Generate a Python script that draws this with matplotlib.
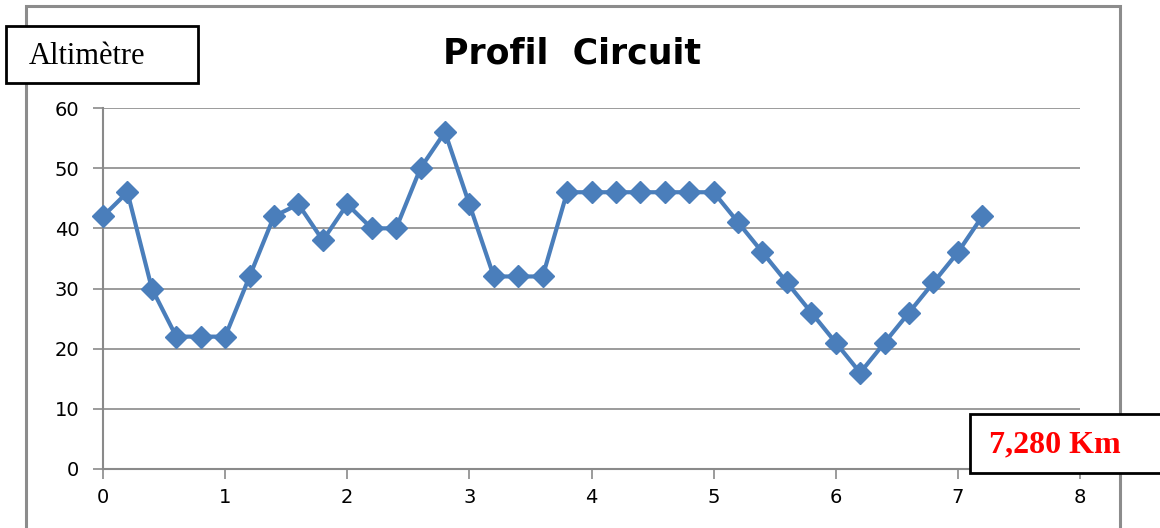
import matplotlib
matplotlib.use("Agg")
import matplotlib.pyplot as plt
from matplotlib.patches import Rectangle

distance_km = [0.0, 0.2, 0.4, 0.6, 0.8, 1.0, 1.2, 1.4, 1.6, 1.8, 2.0, 2.2, 2.4, 2.6, 2.8,
               3.0, 3.2, 3.4, 3.6, 3.8, 4.0, 4.2, 4.4, 4.6, 4.8, 5.0, 5.2, 5.4, 5.6, 5.8,
               6.0, 6.2, 6.4, 6.6, 6.8, 7.0, 7.2]
altitude = [42, 46, 30, 22, 22, 22, 32, 42, 44, 38, 44, 40, 40, 50, 56,
            44, 32, 32, 32, 46, 46, 46, 46, 46, 46, 46, 41, 36, 31, 26,
            21, 16, 21, 26, 31, 36, 42]
x_ticks = [0, 1, 2, 3, 4, 5, 6, 7, 8]
y_ticks = [0, 10, 20, 30, 40, 50, 60]
title = "Profil  Circuit"
ylabel_box = "Altimètre"
total_box = "7,280 Km"

W, H = 1160, 528
fig = plt.figure(figsize=(W / 100, H / 100), dpi=100)
fig.patch.set_facecolor("white")


def px_rect(x0, y0, x1, y1, **kw):
    """Rectangle given in pixel coordinates (top-left origin)."""
    return Rectangle((x0 / W, 1 - y1 / H), (x1 - x0) / W, (y1 - y0) / H,
                     transform=fig.transFigure, **kw)


# outer chart border
fig.patches.append(px_rect(26, 6, 1120, 540, fill=False, edgecolor="#8c8c8c",
                           linewidth=2.2, zorder=0))

ax = fig.add_axes([103 / W, 1 - 469 / H, (1080 - 103) / W, (469 - 108) / H])
ax.set_xlim(0, 8)
ax.set_ylim(0, 60)
ax.set_xticks(x_ticks)
ax.set_yticks(y_ticks)
ax.grid(axis="y", color="#8a8a8a", linewidth=1.2)
ax.set_axisbelow(True)
for s in ["top", "right"]:
    ax.spines[s].set_visible(False)
for s in ["left", "bottom"]:
    ax.spines[s].set_color("#8a8a8a")
    ax.spines[s].set_linewidth(1.5)
ax.tick_params(axis="both", colors="#8a8a8a", length=7, width=1.2, labelcolor="black",
               labelsize=14)
ax.tick_params(axis="x", pad=7)
ax.tick_params(axis="y", pad=10)

ax.plot(distance_km, altitude, color="#4a7ebb", linewidth=3, marker="D",
        markersize=11, markerfacecolor="#4a7ebb", markeredgecolor="#4a7ebb",
        clip_on=False, zorder=3)

fig.text(572 / W, 1 - 53 / H, title, ha="center", va="center", fontsize=25,
         fontweight="bold", family="DejaVu Sans")

# "Altimètre" box
fig.patches.append(px_rect(6, 26, 198, 83, facecolor="white", edgecolor="black",
                           linewidth=2, zorder=4))
fig.text(87 / W, 1 - 56 / H, ylabel_box, ha="center", va="center", fontsize=22,
         family="Liberation Serif", zorder=5)

# total distance box
fig.patches.append(px_rect(970, 414, 1175, 473, facecolor="white", edgecolor="black",
                           linewidth=2, zorder=4))
fig.text(1055 / W, 1 - 445 / H, total_box, ha="center", va="center", fontsize=23,
         fontweight="bold", color="red", family="Liberation Serif", zorder=5)

fig.savefig("out.png", dpi=100)
